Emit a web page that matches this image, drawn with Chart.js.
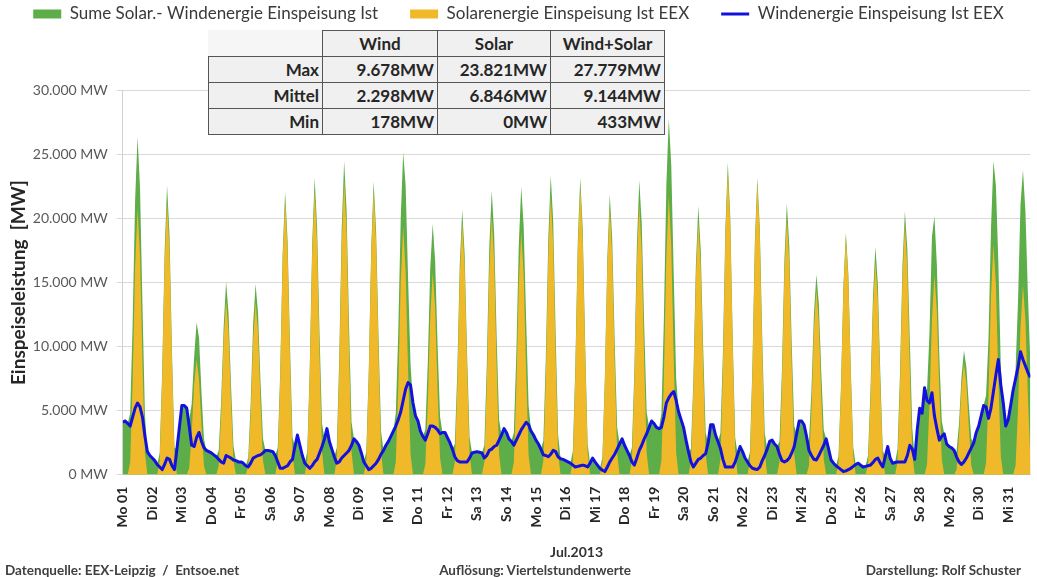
<!DOCTYPE html>
<html>
<head>
<meta charset="utf-8">
<script src="https://cdn.jsdelivr.net/npm/chart.js@4.4.1/dist/chart.umd.min.js"></script>
<style>
  html, body { margin: 0; padding: 0; background: #fff; overflow: hidden; }
  #wrap { position: relative; width: 1037px; height: 577px; }
  #c { position: absolute; left: 0; top: 0; }
  .cell { position: absolute; box-sizing: border-box; font-family: Lato, sans-serif; font-weight: bold;
          font-size: 17px; color: #262626; white-space: nowrap; background: #f0f0f0; }
  .bd { border: 1px solid #555; }
  .foot { position: absolute; font-family: Lato, sans-serif; font-weight: bold; font-size: 13.5px; line-height: 16px; color: #404040; white-space: pre; }
</style>
</head>
<body>
<div id="wrap">
  <canvas id="c" width="1037" height="577"></canvas>
  <div id="tbl"></div>
  <div class="foot" id="f1" style="left:5px; top:562px;"></div>
  <div class="foot" id="f2" style="left:535px; top:562px; transform:translateX(-50%);"></div>
  <div class="foot" id="f3" style="right:16px; top:562px;"></div>
</div>
<script>
// ---------------- data ----------------
const dayLabels = ['Mo 01','Di 02','Mi 03','Do 04','Fr 05','Sa 06','So 07','Mo 08','Di 09','Mi 10',
  'Do 11','Fr 12','Sa 13','So 14','Mo 15','Di 16','Mi 17','Do 18','Fr 19','Sa 20','So 21','Mo 22',
  'Di 23','Mi 24','Do 25','Fr 26','Sa 27','So 28','Mo 29','Di 30','Mi 31'];
const stepHours = 2; // samples at 0,2,4,...,22 h each day

// Windenergie Einspeisung [MW], 12 samples per day
const windMW = [
  4100,4200,4000,3800,4500,5200,5600,5300,4500,3000,1800,1500,
  1300,1100,800,600,400,800,1300,1200,700,400,2000,3700,
  5400,5400,5200,3800,2300,2200,2900,3300,2600,2100,1900,1800,
  1700,1550,1400,1200,1000,900,1500,1400,1300,1150,1100,1000,
  1000,900,700,600,900,1300,1400,1500,1550,1700,1900,1900,
  1850,1800,1500,1000,500,500,600,700,1000,1200,2200,3100,
  2300,1500,900,700,500,700,1000,1200,1700,2200,2800,3600,
  2600,2000,1400,900,1000,1300,1500,1700,1900,2300,2800,2600,
  2300,1700,1000,700,400,500,700,900,1200,1600,1900,2300,
  2600,3000,3400,3800,4300,4900,5800,6700,7200,7000,5600,4600,
  4200,3400,3000,2700,3200,3800,3800,3700,3500,3200,3300,3300,
  2900,2500,2000,1400,1100,1000,1000,1000,1000,1300,1700,1750,
  1800,1750,1700,1300,1500,1900,2000,2200,2300,2700,3100,3600,
  3300,2800,2600,2300,2700,3100,3500,3800,4100,3900,3400,3100,
  2700,2400,2000,1550,1500,1400,1600,1900,1800,1400,1250,1200,
  1100,1000,900,750,600,650,700,750,700,600,900,1300,
  1000,750,500,350,250,600,1000,1300,1600,2000,2400,2800,
  2300,1900,1500,1000,750,1300,1900,2300,2800,3200,3700,4200,
  4000,3700,3600,3700,4500,5600,6000,6300,6500,5800,4900,4300,
  3700,2700,1800,1000,600,900,1200,1300,1500,1650,2500,3900,
  3900,3100,2600,2050,1200,600,600,600,600,1000,1600,2200,
  1800,1300,1000,700,500,450,400,600,1100,1500,2000,2600,
  2700,2400,2200,1600,1100,1000,1100,1300,1700,2200,3200,4200,
  4200,3900,3000,1900,1500,1200,1150,1500,1900,2300,2800,2000,
  1150,900,700,550,400,250,300,400,500,650,800,900,
  750,600,650,700,750,950,1200,1300,900,600,1400,2200,
  1300,900,950,1000,1000,1000,1000,1500,2300,2000,1200,3500,
  5200,4800,6800,5800,5600,6400,4600,3600,2700,3000,3200,2400,
  2200,2100,1900,1400,1000,800,1000,1300,1700,2100,2500,3300,
  3800,4600,5400,5300,4400,5200,6500,7800,9000,7000,5600,3800,
  4300,5400,6600,7500,8400,9600,9000,8500,8000,7600,7200,6800
];

// Solarenergie Einspeisung [MW], 12 samples per day
const solarMW = [
  0,0,0,1000,7300,16200,20800,17100,8700,1700,0,0,
  0,0,0,1100,7500,16600,21300,17500,8900,1700,0,0,
  0,0,0,500,3200,7000,9000,7400,3800,700,0,0,
  0,0,0,700,4800,10600,13600,11200,5700,1100,0,0,
  0,0,0,700,4700,10500,13500,11100,5700,1100,0,0,
  0,0,0,1100,7500,16800,21500,17600,9000,1700,0,0,
  0,0,0,1100,7800,17300,22200,18200,9300,1800,0,0,
  0,0,0,1200,8100,17900,23000,18900,9700,1800,0,0,
  0,0,0,1100,7700,17200,22200,18100,9400,1800,0,0,
  0,0,0,1000,6800,15100,19400,15900,8100,1600,0,0,
  0,0,0,800,5500,12300,15800,13000,6600,1300,0,0,
  0,0,0,1000,6900,15400,19700,16200,8300,1600,0,0,
  0,0,0,1000,7100,15800,20200,16600,8500,1600,0,0,
  0,0,0,1000,6700,14800,19000,15600,8000,1500,0,0,
  0,0,0,1100,7600,17000,21800,17900,9200,1700,0,0,
  0,0,0,1100,7900,17600,22500,18500,9500,1800,0,0,
  0,0,0,1000,7300,16300,20900,17100,8800,1700,0,0,
  0,0,0,1100,7400,16500,21100,17300,8900,1700,0,0,
  0,0,0,1100,7600,17000,21800,17900,9200,1700,0,0,
  0,0,0,1000,6900,15400,19800,16200,8300,1600,0,0,
  0,0,0,1200,8300,18600,23800,19500,10000,1900,0,0,
  0,0,0,1100,8000,17800,22800,18700,9600,1800,0,0,
  0,0,0,1000,7000,15700,20100,16500,8400,1600,0,0,
  0,0,0,700,5100,11300,14500,11900,6100,1200,0,0,
  0,0,0,900,6500,14500,18600,15300,7800,1500,0,0,
  0,0,0,800,5800,12900,16600,13600,7000,1300,0,0,
  0,0,0,1000,6900,15300,19600,16100,8200,1600,0,0,
  0,0,0,800,5500,12200,15600,12800,6600,1200,0,0,
  0,0,0,400,3000,6800,8700,7100,3700,700,0,0,
  0,0,0,900,6300,14000,18000,14800,7600,1400,0,0,
  0,0,0,700,5200,11500,14800,12100,6200,1200,0,0
];

const yTicks = [0, 5000, 10000, 15000, 20000, 25000, 30000];
const xTitle = 'Jul.2013';
const yTitle = 'Einspeiseleistung  [MW]';
const seriesNames = ['Sume Solar.- Windenergie Einspeisung Ist', 'Solarenergie Einspeisung Ist EEX', 'Windenergie Einspeisung Ist EEX'];

const statColHeads = ['Wind', 'Solar', 'Wind+Solar'];
const statRowHeads = ['Max', 'Mittel', 'Min'];
const statWind  = ['9.678MW', '2.298MW', '178MW'];
const statSolar = ['23.821MW', '6.846MW', '0MW'];
const statSum   = ['27.779MW', '9.144MW', '433MW'];

const footLeft = 'Datenquelle: EEX-Leipzig  /  Entsoe.net';
const footMid = 'Auflösung: Viertelstundenwerte';
const footRight = 'Darstellung: Rolf Schuster';

// ---------------- derived ----------------
const sumMW = windMW.map((w, i) => w + solarMW[i]);
const pts = arr => arr.map((v, i) => ({ x: i * stepHours, y: v }));
const fmt = v => String(v).replace(/\B(?=(\d{3})+(?!\d))/g, '.') + ' MW';

// ---------------- table & footer ----------------
(function buildTable() {
  const tbl = document.getElementById('tbl');
  const colX = [208, 322, 437, 550, 664];
  const rowY = [30, 56, 82, 108, 134];
  const add = (c, r, text, align, border, bg) => {
    const d = document.createElement('div');
    d.className = 'cell' + (border ? ' bd' : '');
    d.style.left = colX[c] + 'px';
    d.style.top = rowY[r] + 'px';
    d.style.width = (colX[c + 1] - colX[c] + 1) + 'px';
    d.style.height = (rowY[r + 1] - rowY[r] + 1) + 'px';
    d.style.lineHeight = (rowY[r + 1] - rowY[r] - 1) + 'px';
    d.style.textAlign = align;
    d.style.padding = '0 3px';
    if (bg) d.style.background = bg;
    d.textContent = text;
    tbl.appendChild(d);
  };
  add(0, 0, '', 'center', false, '#f6f6f6');
  statColHeads.forEach((t, i) => add(i + 1, 0, t, 'center', true));
  const cols = [statWind, statSolar, statSum];
  statRowHeads.forEach((t, r) => {
    add(0, r + 1, t, 'right', true);
    cols.forEach((col, c) => add(c + 1, r + 1, col[r], 'right', true));
  });
  document.getElementById('f1').textContent = footLeft;
  document.getElementById('f2').textContent = footMid;
  document.getElementById('f3').textContent = footRight;
})();

// ---------------- chart ----------------
const legendGap = {
  id: 'legendGap',
  beforeLayout(chart) {
    const lg = chart.legend;
    if (lg && !lg._gapPatched) {
      const orig = lg.fit;
      lg.fit = function () { orig.call(this); this.height += 58.2; };
      lg._gapPatched = true;
    }
  }
};

Chart.defaults.font.family = 'Lato, sans-serif';
const ctx = document.getElementById('c');
new Chart(ctx, {
  type: 'line',
  data: {
    datasets: [
      { label: seriesNames[0], data: pts(sumMW), fill: 'origin', backgroundColor: '#5dad48',
        borderColor: '#5dad48', borderWidth: 0, pointRadius: 0, pointStyle: 'rect', order: 3 },
      { label: seriesNames[1], data: pts(solarMW), fill: 'origin', backgroundColor: '#f0b92a',
        borderColor: '#f0b92a', borderWidth: 0, pointRadius: 0, pointStyle: 'rect', order: 2 },
      { label: seriesNames[2], data: pts(windMW), fill: false, borderColor: '#1212dc',
        backgroundColor: '#1212dc', borderWidth: 3, pointRadius: 0, pointStyle: 'line', order: 1,
        borderJoinStyle: 'round' }
    ]
  },
  plugins: [legendGap],
  options: {
    responsive: false,
    animation: false,
    events: [],
    layout: { padding: { top: -26.5, left: 0, right: 0, bottom: 16 } },
    plugins: {
      tooltip: { enabled: false },
      legend: {
        position: 'top',
        align: 'center',
        labels: {
          usePointStyle: true,
          pointStyleWidth: 28,
          boxHeight: 9,
          padding: 32,
          color: '#3a3a3a',
          font: { size: 17 },
          sort: (a, b) => a.datasetIndex - b.datasetIndex
        }
      }
    },
    scales: {
      x: {
        type: 'linear',
        min: 0,
        max: 738,
        afterFit: s => { s.height = 86.3; },
        afterBuildTicks: s => { s.ticks = dayLabels.map((_, i) => ({ value: i * 24 })); },
        grid: { display: false, drawTicks: false },
        border: { display: false },
        ticks: {
          autoSkip: false,
          minRotation: 90,
          maxRotation: 90,
          padding: 12,
          color: '#262626',
          font: { size: 14, weight: 'bold' },
          callback: v => dayLabels[Math.round(v / 24)]
        },
        title: { display: true, text: xTitle, color: '#333', font: { size: 14, weight: 'bold' }, padding: { top: 2, bottom: 0.5 } }
      },
      y: {
        min: 0,
        max: 30000,
        afterFit: s => { s.width = 122.8; },
        afterBuildTicks: s => { s.ticks = yTicks.map(v => ({ value: v })); },
        grid: { color: '#d9d9d9', lineWidth: 1, drawTicks: true, tickLength: 6 },
        border: { display: true, color: '#d0d0d0' },
        ticks: { padding: 9, color: '#595959', font: { size: 14 }, callback: v => fmt(v) },
        title: { display: true, text: yTitle, color: '#262626', font: { size: 19, weight: 'bold' }, padding: { top: 7, bottom: 0 } }
      }
    }
  }
});
</script>
</body>
</html>
